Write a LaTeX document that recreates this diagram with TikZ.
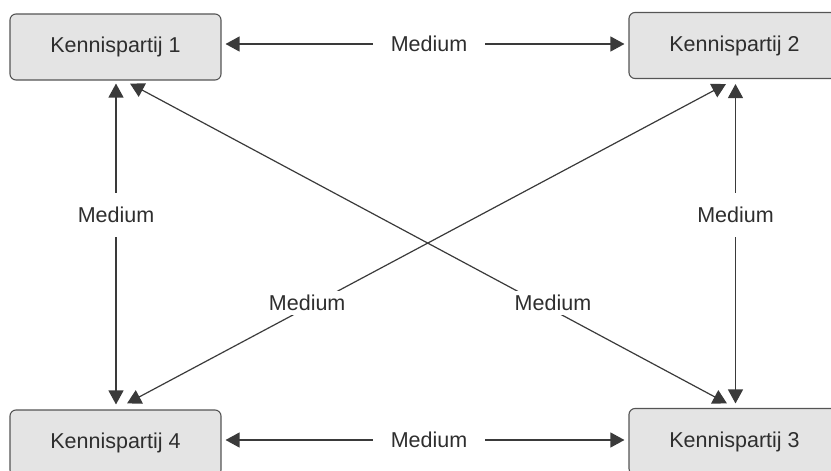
\documentclass[tikz,border=0pt]{standalone}
\usepackage{fontspec}
\setmainfont{Liberation Sans}
\usetikzlibrary{arrows.meta,calc}
\definecolor{inkgray}{HTML}{3A3A3A}
\definecolor{textgray}{HTML}{2E2E2E}
\definecolor{boxfill}{HTML}{E4E4E4}
\definecolor{boxline}{HTML}{555555}
\begin{document}
\begin{tikzpicture}[x=1pt,y=1pt,
  party/.style={draw=boxline, line width=1.1pt, fill=boxfill, rounded corners=6pt,
    minimum width=211pt, minimum height=66pt, inner sep=0pt,
    font=\fontsize{21.5}{24}\selectfont, text=textgray},
  link/.style={draw=inkgray, line width=1.2pt,
    {Triangle[length=14pt,width=15pt]}-{Triangle[length=14pt,width=15pt]}},
  lbl/.style={fill=white, text=textgray, font=\fontsize{21.5}{24}\selectfont,
    inner sep=4pt}]
  \useasboundingbox (0,0) rectangle (831,-471);

  % the four knowledge parties
  \node[party] (k1) at (115.5,-47)   {Kennispartij 1};
  \node[party] (k2) at (734.5,-45.5) {Kennispartij 2};
  \node[party] (k3) at (734.5,-441.5){Kennispartij 3};
  \node[party] (k4) at (115.5,-443)  {Kennispartij 4};

  % horizontal links
  \draw[link] ($(k1.east)+(4,3)$) -- ($(k2.west)+(-4,1.5)$)
    node[lbl, pos=0.51, inner xsep=18pt] {Medium};
  \draw[link] ($(k4.east)+(4,3)$) -- ($(k3.west)+(-4,1.5)$)
    node[lbl, pos=0.51, inner xsep=18pt] {Medium};

  % vertical links
  \draw[link] ($(k1.south)+(0.5,-3)$) -- ($(k4.north)+(0.5,5)$)
    node[lbl, pos=0.41, inner ysep=14pt] {Medium};
  \draw[link] ($(k2.south)+(1,-5)$) -- ($(k3.north)+(1,4.5)$)
    node[lbl, pos=0.41, inner ysep=14pt] {Medium};

  % diagonal links
  \draw[link] ($(k1.south)+(14.5,-3)$) -- ($(k3.north)+(-7.5,4.5)$)
    node[lbl, pos=0.685, xshift=14pt] {Medium};
  \draw[link] ($(k2.south)+(-8.5,-5)$) -- ($(k4.north)+(11.5,6)$)
    node[lbl, pos=0.685, xshift=-8.5pt] {Medium};
\end{tikzpicture}
\end{document}
